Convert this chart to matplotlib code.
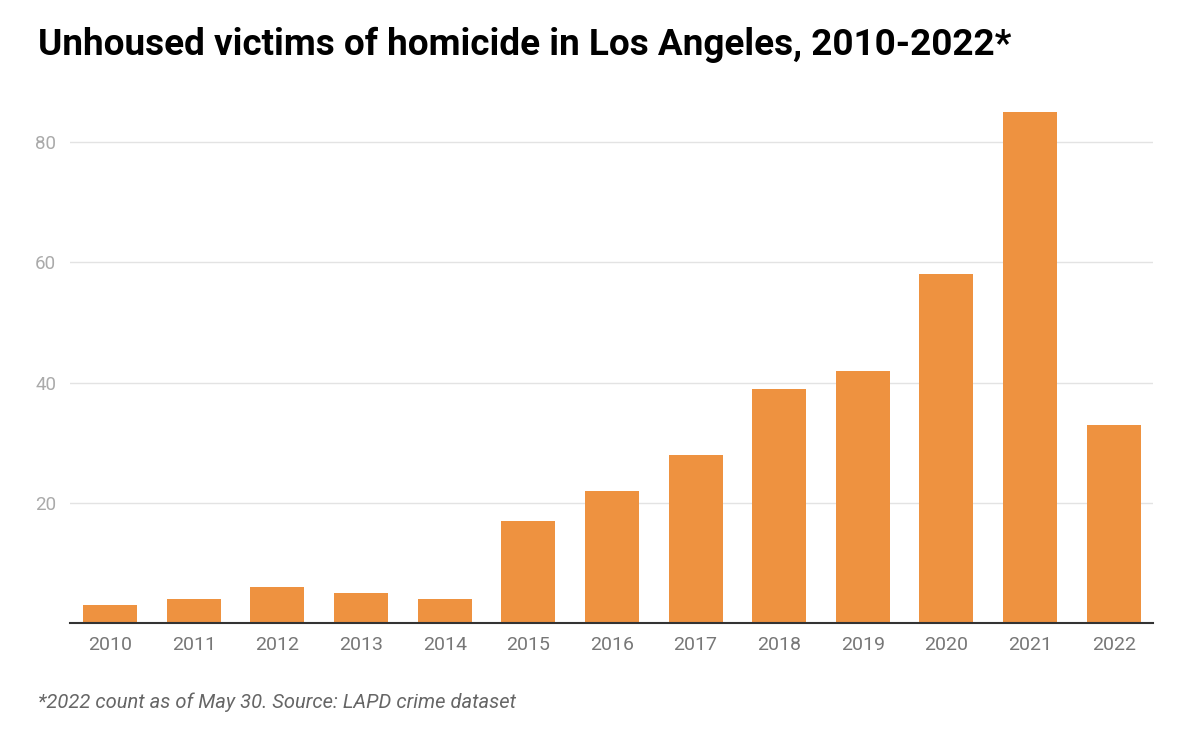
import matplotlib.pyplot as plt

plt.rcParams['font.family'] = ['Roboto', 'DejaVu Sans']

years = ['2010', '2011', '2012', '2013', '2014', '2015', '2016',
         '2017', '2018', '2019', '2020', '2021', '2022']
victims = [3, 4, 6, 5, 4, 17, 22, 28, 39, 42, 58, 85, 33]
yticks = [20, 40, 60, 80]

fig = plt.figure(figsize=(12, 7.43), dpi=100)
ax = fig.add_axes([70 / 1200, 1 - 623 / 743, (1153 - 70) / 1200, (623 - 94) / 743])

x = range(len(years))
ax.bar(x, victims, width=0.645, color='#ee9240', zorder=2)

ax.set_xlim(-0.48, len(years) - 0.53)
ax.set_ylim(0, 88)
ax.set_yticks(yticks)
ax.set_yticklabels([str(t) for t in yticks], color='#aaaaaa', fontsize=13.5)
ax.set_xticks(list(x))
ax.set_xticklabels(years, color='#777777', fontsize=14)
ax.tick_params(axis='both', length=0)
ax.tick_params(axis='y', pad=10)
ax.tick_params(axis='x', pad=9)
ax.grid(axis='y', color='#e3e3e3', linewidth=1, zorder=0)

for side in ['top', 'right', 'left']:
    ax.spines[side].set_visible(False)
ax.spines['bottom'].set_color('#333333')
ax.spines['bottom'].set_linewidth(1.5)
ax.spines['bottom'].set_zorder(3)

fig.text(38 / 1200, 1 - 45 / 743, 'Unhoused victims of homicide in Los Angeles, 2010-2022*',
         fontsize=26.6, fontweight='bold', color='#000000', va='center', ha='left')
fig.text(38 / 1200, 1 - 702 / 743, '*2022 count as of May 30. Source: LAPD crime dataset',
         fontsize=14.5, style='italic', color='#666666', va='center', ha='left')

fig.savefig('out.png', dpi=100)
